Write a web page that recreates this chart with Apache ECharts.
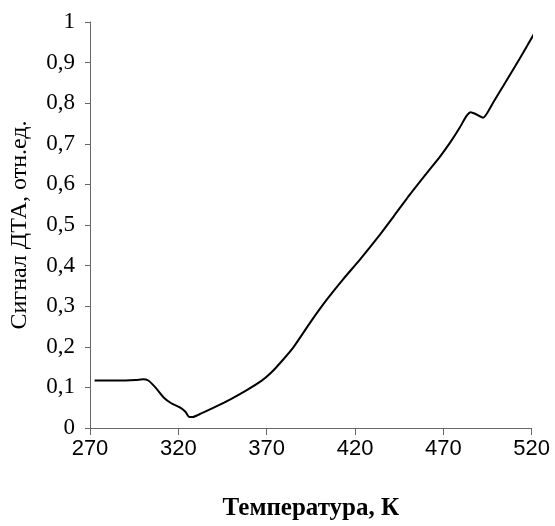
<!DOCTYPE html>
<html>
<head>
<meta charset="utf-8">
<script src="https://cdn.jsdelivr.net/npm/echarts@6/dist/echarts.min.js"></script>
<style>html,body{margin:0;padding:0;background:#fff}#c{width:555px;height:526px}</style>
</head>
<body>
<div id="c"></div>
<script>
var temperature = [272.6, 280, 290, 296, 300, 303, 307, 312, 316, 321.5, 324, 326.2, 328, 333, 340, 350, 359, 367, 372, 378, 385, 395, 404, 413, 423, 433, 442, 451, 460.6, 468, 474, 479.3, 483, 485.5, 488, 492.5, 498, 503.8, 513, 521.6];
var signal = [0.117, 0.117, 0.117, 0.118, 0.120, 0.117, 0.100, 0.074, 0.061, 0.049, 0.040, 0.027, 0.027, 0.036, 0.050, 0.072, 0.094, 0.116, 0.134, 0.162, 0.198, 0.262, 0.316, 0.365, 0.416, 0.470, 0.522, 0.575, 0.628, 0.668, 0.704, 0.740, 0.768, 0.778, 0.774, 0.764, 0.800, 0.842, 0.908, 0.973];
var xTicks = [270, 320, 370, 420, 470, 520];
var yTicks = [0, 0.1, 0.2, 0.3, 0.4, 0.5, 0.6, 0.7, 0.8, 0.9, 1];
var xTitle = 'Температура, К';
var yTitle = 'Сигнал ДТА, отн.ед.';

var points = temperature.map(function (t, i) { return [t, signal[i]]; });
var chart = echarts.init(document.getElementById('c'));
chart.setOption({
  animation: false,
  backgroundColor: '#fff',
  grid: { left: 88.6, right: 23.3, top: 22, bottom: 98, containLabel: false },
  xAxis: {
    type: 'value', min: xTicks[0], max: xTicks[xTicks.length - 1], interval: 50,
    name: xTitle, nameLocation: 'middle', nameGap: 68,
    nameTextStyle: { fontFamily: 'Liberation Serif', fontWeight: 'bold', fontSize: 25, color: '#000' },
    axisLine: { lineStyle: { color: '#666', width: 1 } },
    axisTick: { show: true, inside: false, length: 7, lineStyle: { color: '#666' } },
    axisLabel: { fontFamily: 'Liberation Sans', fontSize: 22, color: '#000', margin: 10 },
    splitLine: { show: false }
  },
  yAxis: {
    type: 'value', min: yTicks[0], max: yTicks[yTicks.length - 1], interval: 0.1,
    name: yTitle, nameLocation: 'middle', nameGap: 58, nameRotate: 90,
    nameTextStyle: { fontFamily: 'Liberation Serif', fontSize: 24, color: '#000' },
    axisLine: { show: true, lineStyle: { color: '#666', width: 1 } },
    axisTick: { show: true, inside: false, length: 5, lineStyle: { color: '#666' } },
    axisLabel: {
      fontFamily: 'Liberation Serif', fontSize: 23, color: '#000', margin: 15,
      formatter: function (v) { return String(Math.round(v * 10) / 10).replace('.', ','); }
    },
    splitLine: { show: false }
  },
  series: [{
    type: 'line', data: points, smooth: 0.2, showSymbol: false,
    lineStyle: { color: '#000', width: 2 }
  }]
});
</script>
</body>
</html>
